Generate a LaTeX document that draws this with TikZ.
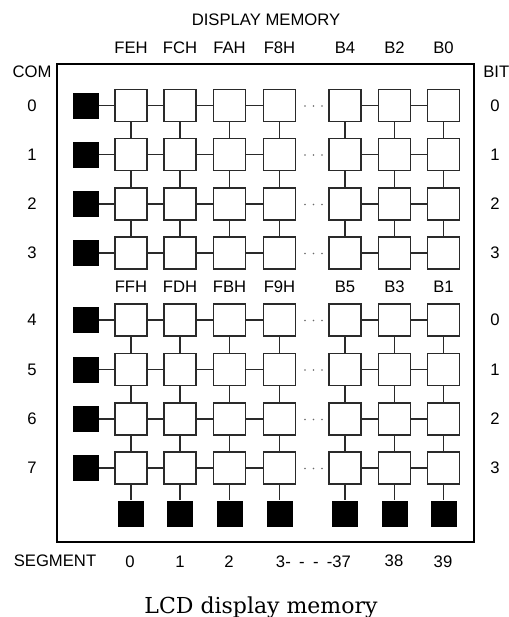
\documentclass[tikz,border=0pt]{standalone}
\usepackage{fontspec}
\setmainfont{Liberation Sans}
\newfontfamily\didascalia{DejaVu Serif}
\definecolor{memtratto}{HTML}{2A2A2A}
\definecolor{mempunti}{HTML}{6A6A6A}
\tikzset{
  cella/.style={draw=memtratto, line width=0.9pt, fill=white, minimum size=24.1pt, inner sep=0pt},
  pilota/.style={fill=black, minimum size=19.5pt, inner sep=0pt},
  filo/.style={draw=memtratto, line width=0.8pt},
  etichetta/.style={font=\fontsize{12.5}{15}\selectfont, inner sep=0pt}
}

\begin{document}
\begin{tikzpicture}[x=0.75pt,y=-0.75pt]

  % ---- Area utile (le misure sono in pixel dell'originale) ---------------
  \useasboundingbox (0,0) rectangle (509,617);
  \fill[white] (0,0) rectangle (509,617);

  % ---- Cornice ---------------------------------------------------------
  \draw[black, line width=0.9pt] (57,64) rectangle (474,542);

  % ---- Intestazioni ------------------------------------------------------
  \node[etichetta] (titolo) at (266,20) {DISPLAY MEMORY};
  \node[etichetta] (com) at (32,71.5) {COM};
  \node[etichetta, anchor=west] (bit) at (483,71.5) {BIT};

  % ---- Colonne: x del centro, indirizzo sopra (COM0-3) e sotto (COM4-7) --
  \foreach \x/\alto/\basso [count=\k] in
      {131/FEH/FFH, 180/FCH/FDH, 229.5/FAH/FBH, 279.5/F8H/F9H,
       345/B4/B5, 394.5/B2/B3, 443.5/B0/B1}{
    \node[etichetta] (alto\k) at (\x,48) {\alto};
    \node[etichetta] (basso\k) at (\x,286.5) {\basso};
    % pilota del segmento, in fondo
    \node[pilota] (seg\k) at (\x,513.5) {};
  }

  % ---- Righe: pilota COM, celle, numeri ai due lati ----------------------
  \foreach \y/\bitno [count=\r from 0] in
      {105.5/0, 154.5/1, 204/2, 253/3, 320/0, 369.5/1, 419/2, 468/3}{
    \node[etichetta] (nc\r) at (32,\y) {\r};
    \node[etichetta] (nb\r) at (495,\y) {\bitno};
    \node[pilota] (com\r) at (86,\y) {};
    \foreach \x [count=\k] in {131,180,229.5,279.5,345,394.5,443.5}
      \node[cella] (c\r-\k) at (\x,\y) {};
    % i puntini fra F8H/F9H e B4/B5
    \foreach \p in {305,313.5,322}
      \fill[mempunti] (\p,\y+0.5) circle (0.9);
  }

  % ---- Collegamenti ------------------------------------------------------
  \foreach \r in {0,...,7}{
    \draw[filo] (com\r) -- (c\r-1);
    \foreach \k in {1,2,3,5,6}{
      \pgfmathtruncatemacro\kk{\k+1}
      \draw[filo] (c\r-\k) -- (c\r-\kk);
    }
  }
  \foreach \r in {0,1,2,4,5,6}{
    \pgfmathtruncatemacro\rr{\r+1}
    \foreach \k in {1,...,7}
      \draw[filo] (c\r-\k) -- (c\rr-\k);
  }
  \foreach \k in {1,...,7}
    \draw[filo] (c7-\k) -- (seg\k);

  % ---- Numeri dei segmenti -----------------------------------------------
  \node[etichetta] (segmento) at (55,561) {SEGMENT};
  \node[etichetta] (s0) at (130,562) {0};
  \node[etichetta] (s1) at (180,562) {1};
  \node[etichetta] (s2) at (229,562) {2};
  \node[etichetta] (s3) at (313.5,562)
    {3-\hspace{0.5em}-\hspace{0.5em}-\hspace{0.5em}-37};
  \node[etichetta] (s38) at (394,560.5) {38};
  \node[etichetta] (s39) at (443,562) {39};

  % ---- Didascalia ----------------------------------------------------------
  \node[anchor=base, inner sep=0pt, font=\didascalia\fontsize{16.5}{19}\selectfont]
    (didascalia) at (261,613) {LCD display memory};

\end{tikzpicture}
\end{document}
